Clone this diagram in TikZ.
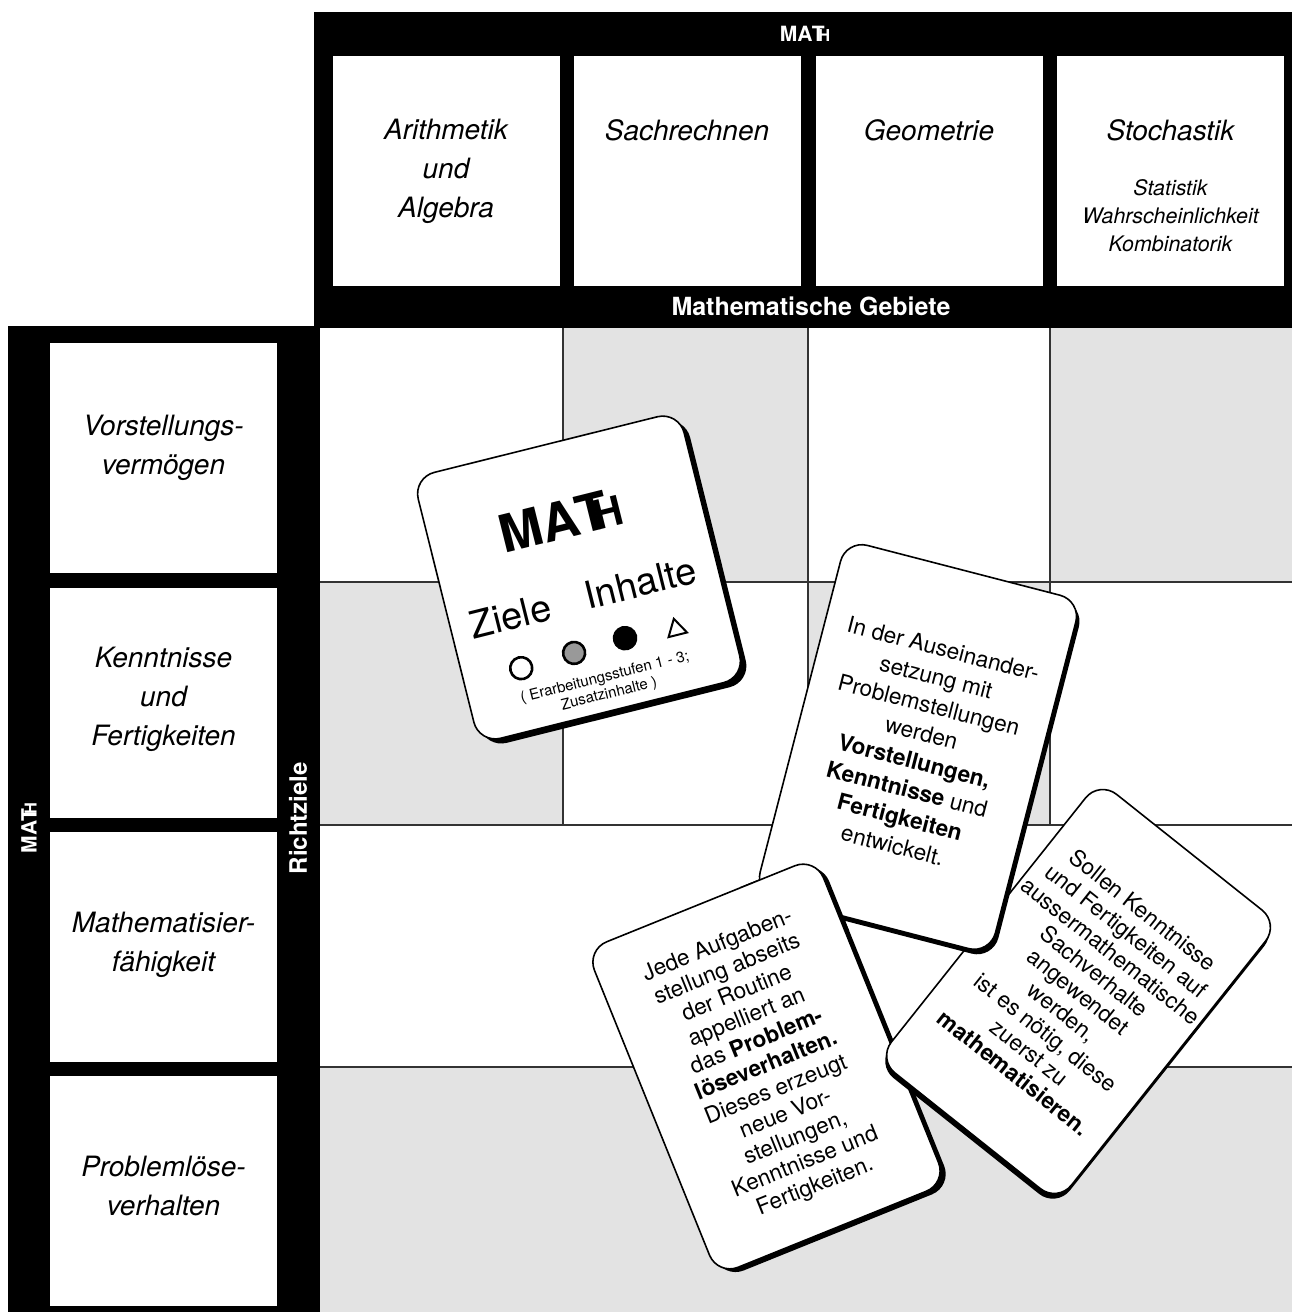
\documentclass[tikz,border=0pt]{standalone}
\usepackage{fontspec}
\setmainfont{TeX Gyre Heros}
\usetikzlibrary{positioning,shapes.geometric}

\newcommand\mathlogo{MA\kern-.03em T\kern-.3em\scalebox{.78}{H}}
\newcommand\aufgabentext{Jede Aufgaben-\\stellung abseits\\der Routine\\appelliert an\\das \textbf{Problem-}\\\textbf{löseverhalten.}\\Dieses erzeugt\\neue Vor-\\stellungen,\\Kenntnisse und\\Fertigkeiten.}

\tikzset{
  balken/.style={fill=black},
  feld/.style={fill=white, inner sep=0pt, minimum width=113.5pt, minimum height=115pt},
  feldtext/.style={font=\itshape\fontsize{14}{19.5}\selectfont, align=center, inner sep=0pt},
  unterfeld/.style={font=\itshape\fontsize{10.7}{14}\selectfont, align=center, inner sep=0pt},
  balkentext/.style={text=white, font=\bfseries\fontsize{10.5}{12}\selectfont, inner sep=0pt},
  grau/.style={fill=black!11},
  raster/.style={draw=black!80, line width=1.4pt},
  karte/.style={draw=black, line width=0.8pt, fill=white, rounded corners=11pt,
    inner sep=0pt, align=center, font=\fontsize{11.3}{13}\selectfont,
    preaction={fill=black, transform canvas={shift={#1}}}},
  karte/.default={(2.5pt,-2.5pt)},
  aufgabenkarte/.style={karte={(2.8pt,-1.6pt)}, minimum width=123.5pt,
    minimum height=175.5pt, rotate=22},
  stufe/.style={circle, draw=black, line width=1.3pt, minimum size=11pt, inner sep=0pt},
}

\begin{document}
\begin{tikzpicture}[x=0.5pt, y=-0.5pt]
  \useasboundingbox (0,0) rectangle (1292,1312);
  \fill[white] (0,0) rectangle (1292,1312);

  % Raster
  \foreach \xa/\ya/\xb/\yb in {563/328/808/582, 1050/328/1292/582, 320/582/563/825,
      808/582/1050/825, 320/1067/1292/1312}
    \fill[grau] (\xa,\ya) rectangle (\xb,\yb);
  \foreach \x in {563,808,1050}
    \draw[raster] (\x,320) -- (\x,825);
  \foreach \y in {582,825,1067}
    \draw[raster] (310,\y) -- (1292,\y);

  % Rahmen
  \fill[balken] (314,12) rectangle (1292,328);
  \fill[balken] (8,326) rectangle (320,1312);
  \node[balkentext] (mathoben) at (805,34) {\mathlogo};
  \node[balkentext, font=\bfseries\fontsize{12.5}{14}\selectfont] (gebiete) at (811,306) {Mathematische Gebiete};
  \node[balkentext, rotate=90] (mathlinks) at (29,828) {\mathlogo};
  \node[balkentext, rotate=90, font=\bfseries\fontsize{12}{14}\selectfont] (richtziele) at (298,818) {Richtziele};

  % Mathematische Gebiete
  \node[feld] (f1) at (446,170.5) {};
  \node[feld] (f2) at (687,170.5) {};
  \node[feld] (f3) at (929,170.5) {};
  \node[feld] (f4) at (1170.5,170.5) {};
  \node[feldtext, anchor=north] (arith) at ([yshift=-32pt]f1.north) {Arithmetik\\und\\Algebra};
  \node[feldtext, anchor=north] (sach) at ([yshift=-32pt]f2.north) {Sachrechnen};
  \node[feldtext, anchor=north] (geo) at ([yshift=-32pt]f3.north) {Geometrie};
  \node[feldtext, anchor=north] (stoch) at ([yshift=-32pt]f4.north) {Stochastik};
  \node[unterfeld, below=19pt of stoch] (stochteil) {Statistik\\Wahrscheinlichkeit\\Kombinatorik};

  % Richtziele
  \node[feld] (z1) at (163.5,458) {};
  \node[feld] (z2) at (163.5,703) {};
  \node[feld] (z3) at (163.5,947) {};
  \node[feld] (z4) at (163.5,1190.5) {};
  \node[feldtext] (vorst) at (163.5,448) {Vorstellungs-\\vermögen};
  \node[feldtext] (kennt) at (163.5,699) {Kenntnisse\\und\\Fertigkeiten};
  \node[feldtext] (mathem) at (163.5,945) {Mathematisier-\\fähigkeit};
  \node[feldtext] (problem) at (163.5,1186) {Problemlöse-\\verhalten};

  % Karte MATH
  \begin{scope}[shift={(579,577.5)}, rotate=14, transform shape]
    \node[karte={(3pt,-2.3pt)}, minimum width=137pt, minimum height=137pt] (mathkarte) at (0,0) {};
    \node[font=\bfseries\fontsize{26}{26}\selectfont] (kartelogo) at (-4,-60) {\mathlogo};
    \node[font=\fontsize{19}{19}\selectfont] (ziele) at (-76,21) {Ziele};
    \node[font=\fontsize{19}{19}\selectfont] (inhalte) at (58,20) {Inhalte};
    \node[stufe, fill=white] (stufe1) at (-78,74) {};
    \node[stufe, fill=black!40] (stufe2) at (-23,72) {};
    \node[stufe, fill=black] (stufe3) at (30,70) {};
    \node[draw, regular polygon, regular polygon sides=3, line width=1pt,
      minimum size=11pt, inner sep=0pt] (zusatz) at (82,74) {};
    \node[font=\fontsize{7.5}{8.7}\selectfont, align=center] (stufentext) at (1,112)
      {( Erarbeitungsstufen 1 - 3;\\Zusatzinhalte )};
  \end{scope}

  % Karten mit Text
  \node[aufgabenkarte] (aufgabe) at (766.5,1066.5) {\aufgabentext};
  \node[karte={(-0.7pt,-2.6pt)}, minimum width=115pt, minimum height=178pt, rotate=-38.5]
    (sachverhalt) at (1078.5,991.5)
    {Sollen Kenntnisse\\und Fertigkeiten auf\\aussermathematische\\Sachverhalte\\angewendet\\werden,\\ist es nötig, diese\\zuerst zu\\\textbf{mathematisieren.}};
  \node[karte={(1.5pt,-2.5pt)}, minimum width=121.5pt, minimum height=182.5pt, rotate=-14.5,
    font=\fontsize{11.3}{14.5}\selectfont] (ausein) at (918,747)
    {In der Auseinander-\\setzung mit\\Problemstellungen\\werden\\\textbf{Vorstellungen,}\\\textbf{Kenntnisse} und\\\textbf{Fertigkeiten}\\entwickelt.};
  \begin{scope}
    \clip (740,830) rectangle (900,930);
    \node[aufgabenkarte] (aufgabe) at (766.5,1066.5) {\aufgabentext};
  \end{scope}
\end{tikzpicture}
\end{document}
